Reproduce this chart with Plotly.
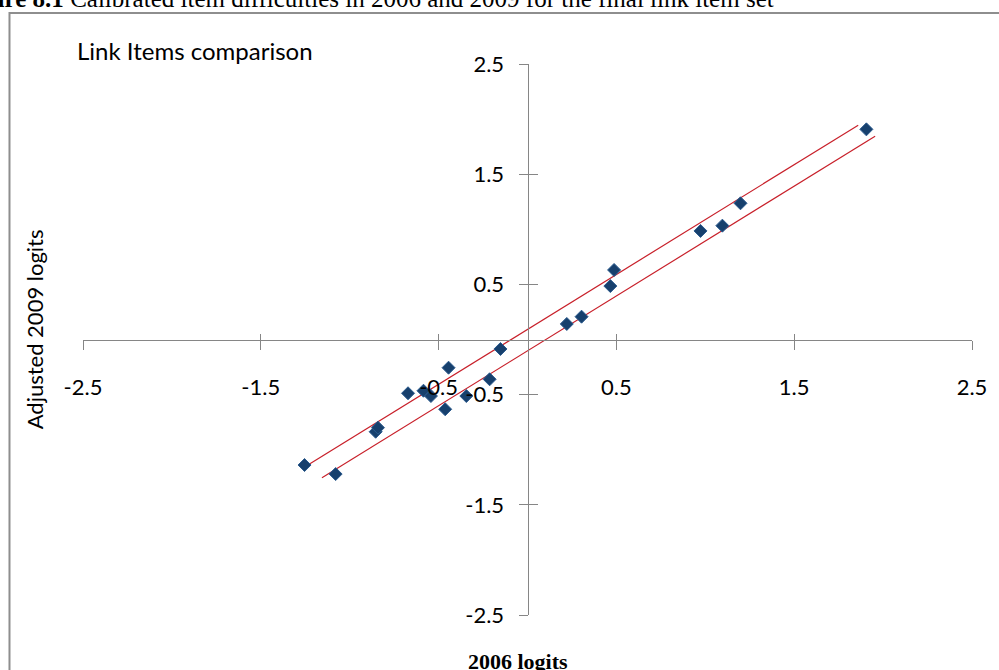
import plotly.graph_objects as go

# ---- data ----
x_2006 = [-1.254, -1.079, -0.854, -0.841, -0.672, -0.585, -0.543, -0.444, -0.463,
          -0.344, -0.213, -0.152, 0.221, 0.304, 0.466, 0.487, 0.973, 1.096, 1.198, 1.906]
y_2009 = [-1.139, -1.221, -0.837, -0.800, -0.488, -0.465, -0.513, -0.256, -0.633,
          -0.513, -0.361, -0.086, 0.141, 0.207, 0.485, 0.631, 0.985, 1.033, 1.236, 1.907]

upper_x = [-1.251, 1.860]
upper_y = [-1.155, 1.945]
lower_x = [-1.156, 1.955]
lower_y = [-1.255, 1.845]

tick_vals = [-2.5, -1.5, -0.5, 0.5, 1.5, 2.5]
tick_text = ["-2.5", "-1.5", "-0.5", "0.5", "1.5", "2.5"]

# ---- layout geometry (pixels) ----
W, H = 999, 670
L, R, T, B = 83, 978, 64, 615

def px(x):
    return (x - L) / (R - L)

def py(y):
    return (B - y) / (B - T)

AX = "#868686"
TICK_FONT = dict(family="Lato, Calibri, sans-serif", size=22, color="#000000")

fig = go.Figure()
fig.add_trace(go.Scatter(x=upper_x, y=upper_y, mode="lines",
                         line=dict(color="#C8202A", width=1.2), showlegend=False, hoverinfo="skip"))
fig.add_trace(go.Scatter(x=lower_x, y=lower_y, mode="lines",
                         line=dict(color="#C8202A", width=1.2), showlegend=False, hoverinfo="skip"))
fig.add_trace(go.Scatter(x=x_2006, y=y_2009, mode="markers",
                         marker=dict(symbol="diamond", size=10, color="#17406D",
                                     line=dict(color="#2A5A8E", width=1)),
                         showlegend=False))
fig.add_trace(go.Scatter(x=[None], y=[None], xaxis="x2", yaxis="y2",
                         showlegend=False, hoverinfo="skip"))

axis_common = dict(range=[-2.5, 2.5], tickvals=tick_vals, ticktext=tick_text,
                   showgrid=False, zeroline=False, domain=[0, 1])

fig.update_layout(
    width=W, height=H,
    margin=dict(l=L, r=W - R, t=T, b=H - B, pad=0),
    paper_bgcolor="white", plot_bgcolor="white",
    xaxis=dict(**axis_common, anchor="free", position=0.5, showline=True,
               linecolor=AX, linewidth=1, ticks="outside", ticklen=9, tickcolor=AX,
               tickwidth=1, tickfont=TICK_FONT, ticklabelstandoff=19),
    yaxis=dict(**axis_common, anchor="free", position=0.5, showline=True,
               linecolor=AX, linewidth=1, ticks="outside", ticklen=9, tickcolor=AX,
               tickwidth=1, tickfont=TICK_FONT, ticklabelstandoff=10),
    xaxis2=dict(**axis_common, overlaying="x", anchor="free", position=0.5,
                showline=False, ticks="inside", ticklen=6, tickcolor=AX, tickwidth=1,
                showticklabels=False),
    yaxis2=dict(**axis_common, overlaying="y", anchor="free", position=0.5,
                showline=False, ticks="inside", ticklen=9, tickcolor=AX, tickwidth=1,
                showticklabels=False),
    shapes=[dict(type="rect", xref="paper", yref="paper",
                 x0=px(9), x1=px(1010), y0=py(13), y1=py(690),
                 line=dict(color="#8E8E8E", width=2), fillcolor="rgba(0,0,0,0)", layer="below")],
    annotations=[
        dict(text="<b>Figure 8.1</b> Calibrated item difficulties in 2006 and 2009 for the final link item set",
             xref="paper", yref="paper", x=px(-47), y=py(-1), xanchor="left", yanchor="middle",
             showarrow=False, font=dict(family="Liberation Serif, serif", size=25, color="#000000")),
        dict(text="Link Items comparison", xref="paper", yref="paper",
             x=px(75), y=py(51), xanchor="left", yanchor="middle", showarrow=False,
             font=dict(family="Lato, Calibri, sans-serif", size=24, color="#000000")),
        dict(text="Adjusted 2009 logits", xref="paper", yref="paper",
             x=px(34), y=py(329), xanchor="center", yanchor="middle", textangle=-90,
             showarrow=False, font=dict(family="Lato, Calibri, sans-serif", size=22, color="#000000")),
        dict(text="<b>2006 logits</b>", xref="paper", yref="paper",
             x=px(521), y=py(661), xanchor="center", yanchor="middle", showarrow=False,
             font=dict(family="Liberation Serif, serif", size=22, color="#000000")),
    ],
)

fig.write_html("out.html", config={"displayModeBar": False},
               post_script="document.body.style.margin='0px';document.body.style.overflow='hidden';")
